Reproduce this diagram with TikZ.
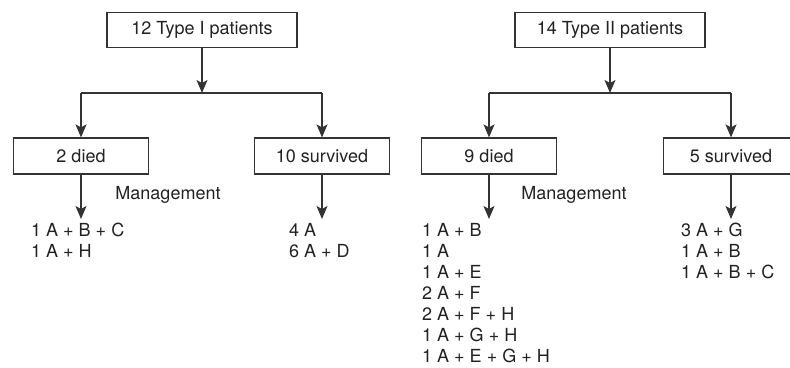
\documentclass[tikz,border=0pt]{standalone}
\usepackage{fontspec}
\setmainfont{TeX Gyre Heros}
\usetikzlibrary{arrows.meta}

\definecolor{linegray}{HTML}{333333}
\definecolor{textgray}{HTML}{222222}

\begin{document}
\begin{tikzpicture}[x=1pt, y=-1pt,
		box/.style={draw=linegray, line width=1.2pt, rectangle, text=textgray,
			minimum height=36pt, inner sep=0pt},
		topbox/.style={box, minimum width=190pt, minimum height=35pt},
		outbox/.style={box, minimum width=135pt},
		list/.style={anchor=north west, align=left, inner sep=0pt, text=textgray},
		label/.style={inner sep=0pt, text=textgray},
		line/.style={draw=linegray, line width=1.2pt},
		arr/.style={line, -{Stealth[length=13pt, width=11pt, inset=3pt]}},
		font=\fontsize{18}{21}\selectfont]
	\useasboundingbox (0,0) rectangle (790,367);

	% Type I
	\node[topbox] (typeI) at (202,30) {12 Type I patients};
	\coordinate (splitI) at (202,93);
	\node[outbox] (diedI) at (81,156) {2 died};
	\node[outbox] (survI) at (322,156) {10 survived};
	\node[label] (mgmtI) at (168,195) {Management};
	\node[list] (listI) at (31,223)
		{1 A + B + C\\1 A + H};
	\node[list] (listIs) at (289,223)
		{4 A\\6 A + D};

	\draw[arr] (typeI) -- (splitI);
	\draw[line] (diedI |- splitI) -- (survI |- splitI);
	\draw[arr] (diedI |- splitI) -- (diedI.north);
	\draw[arr] (survI |- splitI) -- (survI.north);
	\draw[arr] (diedI) -- ([yshift=4pt]diedI.south |- listI.north);
	\draw[arr] (survI) -- ([yshift=4pt]survI.south |- listIs.north);

	% Type II
	\node[topbox] (typeII) at (610,30) {14 Type II patients};
	\coordinate (splitII) at (610,93);
	\node[outbox] (diedII) at (489,156) {9 died};
	\node[outbox] (survII) at (731,156) {5 survived};
	\node[label] (mgmtII) at (574,195) {Management};
	\node[list] (listII) at (422,223)
		{1 A + B\\1 A\\1 A + E\\2 A + F\\2 A + F + H\\1 A + G + H\\1 A + E + G + H};
	\node[list] (listIIs) at (681,223)
		{3 A + G\\1 A + B\\1 A + B + C};

	\draw[arr] (typeII) -- (splitII);
	\draw[line] (diedII |- splitII) -- (survII |- splitII);
	\draw[arr] (diedII |- splitII) -- (diedII.north);
	\draw[arr] (survII |- splitII) -- (survII.north);
	\draw[arr] (diedII) -- ([yshift=4pt]diedII.south |- listII.north);
	\draw[arr] (survII) -- ([yshift=4pt]survII.south |- listIIs.north);
\end{tikzpicture}
\end{document}
